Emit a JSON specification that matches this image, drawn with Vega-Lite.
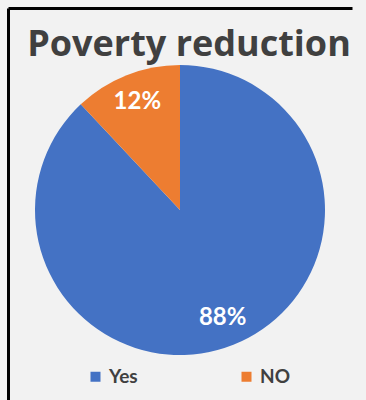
{
  "$schema": "https://vega.github.io/schema/vega-lite/v6.json",
  "autosize": "none",
  "width": 344,
  "height": 404,
  "padding": {"left": 8, "top": 8, "right": 14, "bottom": 0},
  "background": "#f2f2f2",
  "config": {"view": {"stroke": null}, "font": "Lato"},
  "title": {
    "text": "Poverty reduction",
    "fontSize": 36,
    "fontWeight": "bold",
    "color": "#404040",
    "font": "Open Sans",
    "anchor": "middle",
    "frame": "group",
    "baseline": "alphabetic",
    "offset": -46,
    "dy": 38,
    "dx": 9
  },
  "data": {"values": [
    {"answer": "Yes", "value": 0.88},
    {"answer": "NO", "value": 0.12}
  ]},
  "layer": [
    {
      "mark": {"type": "point", "opacity": 0},
      "encoding": {
        "x": {"datum": 0, "type": "quantitative", "scale": {"domain": [0, 1]},
          "axis": {"orient": "top", "domainColor": "black", "domainWidth": 3, "ticks": false, "labels": false, "grid": false, "title": null}},
        "y": {"datum": 0, "type": "quantitative", "scale": {"domain": [0, 1]},
          "axis": {"orient": "left", "domainColor": "black", "domainWidth": 3, "ticks": false, "labels": false, "grid": false, "title": null}}
      }
    },
    {
      "mark": {"type": "arc", "outerRadius": 145},
      "encoding": {
        "theta": {"field": "value", "type": "quantitative", "stack": true},
        "order": {"field": "value", "sort": "descending"},
        "color": {
          "field": "answer", "type": "nominal",
          "scale": {"domain": ["Yes", "NO"], "range": ["#4472C4", "#ED7D31"]},
          "legend": {
            "orient": "none", "legendX": 78, "legendY": 359,
            "direction": "horizontal", "title": null,
            "symbolType": "square", "symbolSize": 100, "symbolStrokeWidth": 0,
            "labelFontSize": 19, "labelFontWeight": "bold", "labelColor": "#404040",
            "labelFont": "Lato", "labelOffset": 4, "columnPadding": 99, "padding": 0
          }
        }
      }
    },
    {
      "mark": {"type": "text", "radius": 116, "fontSize": 24, "fontWeight": "bold", "color": "white", "font": "Lato"},
      "encoding": {
        "theta": {"field": "value", "type": "quantitative", "stack": true},
        "order": {"field": "value", "sort": "descending"},
        "text": {"field": "value", "type": "quantitative", "format": ".0%"}
      }
    }
  ]
}
